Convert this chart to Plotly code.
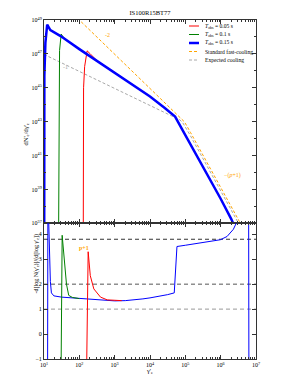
import numpy as np
import plotly.graph_objects as go

# ---------------- data (log10 values) ----------------
# top panel: log10(gamma'_e) and log10(dN'_e/dgamma'_e)
blue_top_lg = [1.005, 1.01, 1.04, 1.09, 1.18, 1.47, 2.0, 2.5, 3.0, 3.5, 4.0, 4.4, 4.71, 5.0, 5.5, 6.0, 6.3, 6.5]
blue_top_lN = [35.0, 45.7, 47.67, 48.72, 48.40, 48.05, 47.28, 46.58, 45.90, 45.20, 44.48, 43.83, 43.30, 42.20, 40.35, 38.45, 37.25, 36.3]

green_top_lg = [1.41, 1.42, 1.44, 1.486, 1.55, 1.65, 1.8, 2.0]
green_top_lN = [35.0, 45.8, 47.2, 48.17, 47.98, 47.80, 47.58, 47.28]

red_top_lg = [2.11, 2.12, 2.15, 2.22, 2.3, 2.4, 2.5, 3.0, 3.3]
red_top_lN = [35.0, 45.0, 46.25, 47.18, 47.02, 46.82, 46.6, 45.9, 45.48]

fast_lg = [1.95, 4.8, 4.9, 4.97, 5.05, 5.15, 6.65]
fast_lN = [49.1, 43.4, 43.18, 43.0, 42.72, 42.35, 36.65]

expected_lg = [1.0, 4.75, 4.85, 4.93, 5.02, 5.12, 6.62]
expected_lN = [46.97, 43.22, 43.1, 42.92, 42.62, 42.26, 36.56]

# bottom panel: log10(gamma'_e) and local index -dlogN/dlog(gamma)
blue_bot_lg = [1.10, 1.107, 1.110, 1.13, 1.15, 1.18, 1.21, 1.28, 1.5, 1.84, 2.0, 2.5, 2.8, 3.0, 3.3,
               3.5, 3.8, 4.0, 4.3, 4.5, 4.686, 4.763, 5.0, 5.5, 5.99, 6.18, 6.36, 6.44, 6.6, 6.79, 6.80, 6.801]
blue_bot_idx = [-3.0, -1.0, 5.5, 4.7, 3.2, 2.1, 1.65, 1.53, 1.48, 1.44, 1.42, 1.37, 1.34, 1.33, 1.34,
                1.36, 1.41, 1.45, 1.52, 1.58, 1.65, 3.51, 3.56, 3.66, 3.78, 3.91, 4.2, 4.44, 5.2, 6.5, -3.0, -3.0]

green_bot_lg = [1.484, 1.486, 1.514, 1.579, 1.636, 1.70, 1.80, 2.0]
green_bot_idx = [-3.0, -1.0, 3.96, 2.74, 2.0, 1.55, 1.47, 1.42]

red_bot_lg = [2.208, 2.21, 2.25, 2.31, 2.41, 2.60, 2.79, 3.0, 3.2]
red_bot_idx = [-3.0, -1.0, 3.30, 2.34, 1.81, 1.48, 1.37, 1.34, 1.34]

ref_levels = [3.8, 2.0, 1.0]
ref_colors = ["#333333", "#555555", "#999999"]

legend_names = ["<i>T</i><sub>obs</sub> = 0.05 s", "<i>T</i><sub>obs</sub> = 0.1 s",
                "<i>T</i><sub>obs</sub> = 0.15 s", "Standard fast-cooling", "Expected cooling"]
legend_colors = ["#ff0000", "#008000", "#0000ff", "#ffa500", "#a8a8a8"]
legend_widths = [1, 1, 2.5, 1, 1]
legend_dash = ["solid", "solid", "solid", "3px,2px", "3px,2px"]

x_tick_exp = [1, 2, 3, 4, 5, 6, 7]
ytop_tick_exp = [37, 39, 41, 43, 45, 47, 49]
ybot_ticks = [-1, 0, 1, 2, 3, 4]

FONT = "Liberation Serif"
AX = "#333333"

def p10(a):
    return 10.0 ** np.array(a, dtype=float)

fig = go.Figure()

# top panel
fig.add_trace(go.Scatter(x=p10(expected_lg), y=p10(expected_lN), mode="lines",
                         line=dict(color="#a8a8a8", width=1, dash="3px,2px"), xaxis="x", yaxis="y"))
fig.add_trace(go.Scatter(x=p10(fast_lg), y=p10(fast_lN), mode="lines",
                         line=dict(color="#ffa500", width=1, dash="3px,2px"), xaxis="x", yaxis="y"))
fig.add_trace(go.Scatter(x=p10(red_top_lg), y=p10(red_top_lN), mode="lines",
                         line=dict(color="#ff0000", width=1), xaxis="x", yaxis="y"))
fig.add_trace(go.Scatter(x=p10(green_top_lg), y=p10(green_top_lN), mode="lines",
                         line=dict(color="#008000", width=1), xaxis="x", yaxis="y"))
fig.add_trace(go.Scatter(x=p10(blue_top_lg), y=p10(blue_top_lN), mode="lines",
                         line=dict(color="#0000ff", width=2.5), xaxis="x", yaxis="y"))

# bottom panel
fig.add_trace(go.Scatter(x=p10(blue_bot_lg), y=blue_bot_idx, mode="lines",
                         line=dict(color="#0000ff", width=1), xaxis="x2", yaxis="y2"))
fig.add_trace(go.Scatter(x=p10(green_bot_lg), y=green_bot_idx, mode="lines",
                         line=dict(color="#008000", width=1), xaxis="x2", yaxis="y2"))
fig.add_trace(go.Scatter(x=p10(red_bot_lg), y=red_bot_idx, mode="lines",
                         line=dict(color="#ff0000", width=1), xaxis="x2", yaxis="y2"))

shapes = []
for lev, c in zip(ref_levels, ref_colors):
    shapes.append(dict(type="line", xref="x2 domain", yref="y2", x0=0, x1=1, y0=lev, y1=lev,
                       line=dict(color=c, width=1, dash="4px,3px"), layer="below"))

# page has an 8px body margin: figure coords = page coords - 8
OFF = 8
W, H = 294 - OFF, 392 - 2 * OFF
ML, MR, MT, MB = 44 - OFF, W - (256 - OFF), 20 - OFF, H - (359 - OFF)
PW, PH = W - ML - MR, H - MT - MB

def px(xp):
    return (xp - OFF - ML) / PW

def py(yp):
    return (H - MB - (yp - OFF)) / PH

annotations = []
rows = [26, 34.5, 43, 51.5, 60]
for name, c, w, d, r in zip(legend_names, legend_colors, legend_widths, legend_dash, rows):
    shapes.append(dict(type="line", xref="paper", yref="paper", x0=px(189), x1=px(199),
                       y0=py(r), y1=py(r), line=dict(color=c, width=w, dash=d)))
    annotations.append(dict(text=name, xref="paper", yref="paper", x=px(202.5), y=py(r),
                            xanchor="left", yanchor="middle", showarrow=False,
                            font=dict(family=FONT, size=5.6, color="black")))

# slope labels
annotations += [
    dict(text="-2", xref="x", yref="y", x=2.79, y=48.1, showarrow=False,
         font=dict(family=FONT, size=6, color="#ffa500")),
    dict(text="-1", xref="x", yref="y", x=1.61, y=46.2, showarrow=False,
         font=dict(family=FONT, size=6, color="#a8a8a8")),
    dict(text="−(<i>p</i>+1)", xref="x", yref="y", x=6.34, y=39.8, showarrow=False,
         font=dict(family=FONT, size=6, color="#ffa500")),
    dict(text="<b>p+1</b>", xref="x2", yref="y2", x=2.12, y=3.47, showarrow=False,
         font=dict(family=FONT, size=6, color="#ffa500")),
]

# axis titles
annotations += [
    dict(text="dN'<sub>e</sub>/dγ'<sub>e</sub>", xref="paper", yref="paper", x=px(20), y=py(121.5),
         textangle=-90, showarrow=False, font=dict(family=FONT, size=6.5, color="black")),
    dict(text="-d[log N(γ'<sub>e</sub>)]/(d[log γ'<sub>e</sub>])", xref="paper", yref="paper",
         x=px(30), y=py(296), textangle=-90, showarrow=False,
         font=dict(family=FONT, size=6, color="black")),
    dict(text="γ'<sub>e</sub>", xref="paper", yref="paper", x=px(149), y=py(377),
         showarrow=False, font=dict(family=FONT, size=6.5, color="black")),
]

xminor = [float(m) * 10.0 ** k for k in range(1, 7) for m in range(2, 10)]
common_x = dict(type="log", range=[1, 7], showline=True, linecolor=AX, linewidth=1, mirror="allticks",
                ticks="inside", ticklen=4, tickcolor=AX, showgrid=False, zeroline=False,
                tickvals=[10.0 ** e for e in x_tick_exp], automargin=False,
                minor=dict(tickvals=xminor, ticks="inside", ticklen=2, tickcolor=AX, showgrid=False),
                tickfont=dict(family=FONT, size=6, color="black"))

dom_split = (PH - (223.3 - 20)) / PH

fig.update_layout(
    width=W, height=H,
    margin=dict(l=ML, r=MR, t=MT, b=MB, pad=0),
    paper_bgcolor="white", plot_bgcolor="white",
    showlegend=False,
    title=dict(text="IS100R15BT77", x=(ML + PW / 2) / W, xanchor="center", y=1 - (13 - OFF) / H,
               yanchor="middle", font=dict(family=FONT, size=6.5, color="black")),
    xaxis=dict(**common_x, anchor="y", showticklabels=False, matches="x2"),
    xaxis2=dict(**common_x, anchor="y2",
                ticktext=["10<sup>%d</sup>" % e for e in x_tick_exp]),
    yaxis=dict(type="log", range=[37, 49], domain=[dom_split, 1], showline=True, linecolor=AX,
               linewidth=1, mirror="allticks", ticks="inside", ticklen=4, tickcolor=AX,
               showgrid=False, zeroline=False, automargin=False,
               tickvals=[10.0 ** e for e in ytop_tick_exp],
               ticktext=["10<sup>%d</sup>" % e for e in ytop_tick_exp],
               minor=dict(tickvals=[10.0 ** e for e in range(38, 49, 2)], ticks="inside", ticklen=2,
                          tickcolor=AX, showgrid=False),
               tickfont=dict(family=FONT, size=6, color="black")),
    yaxis2=dict(range=[-1, 4.44], domain=[0, dom_split], showline=True, linecolor=AX, linewidth=1,
                mirror="allticks", ticks="inside", ticklen=4, tickcolor=AX, showgrid=False,
                zeroline=False, tickvals=ybot_ticks, automargin=False,
                tickfont=dict(family=FONT, size=6, color="black")),
    shapes=shapes,
    annotations=annotations,
)

fig.write_html("out.html")
